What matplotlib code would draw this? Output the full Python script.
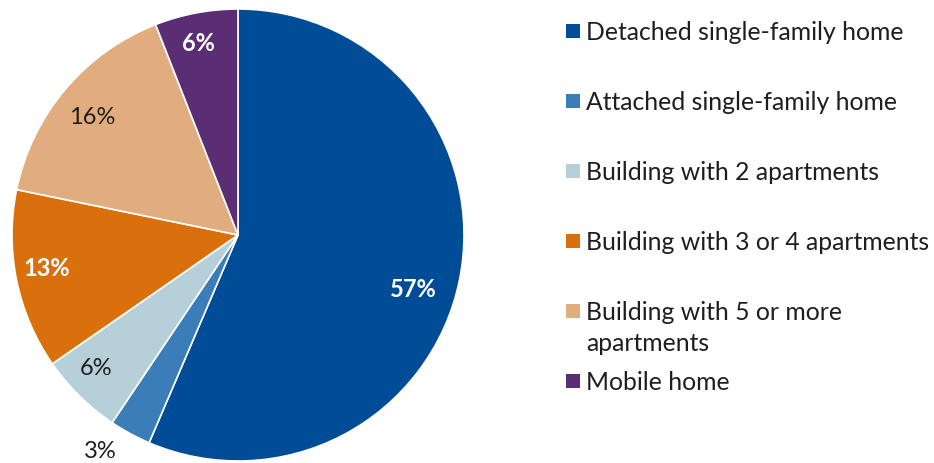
import numpy as np
import matplotlib
matplotlib.use("Agg")
import matplotlib.pyplot as plt
from matplotlib.patches import Rectangle

# Housing type shares (percent), drawn clockwise from 12 o'clock
categories = [
    "Detached single-family home",
    "Attached single-family home",
    "Building with 2 apartments",
    "Building with 3 or 4 apartments",
    "Building with 5 or more\napartments",
    "Mobile home",
]
shares = [57, 3, 6, 13, 16, 6]
colors = ["#004c97", "#3a7db8", "#b5d0d9", "#d9700c", "#e2ad7e", "#5b2d74"]
label_colors = ["white", "#1e1e1e", "#1e1e1e", "white", "#1e1e1e", "white"]
label_bold = [True, False, False, True, False, True]
# radial distance and small angular nudge (deg) for each percent label
label_dist = [0.81, 1.13, 0.86, 0.86, 0.83, 0.87]
label_nudge = [-5.5, -4.0, -2.3, -1.9, 1.1, 0.8]

plt.rcParams["font.family"] = ["Lato", "DejaVu Sans"]

fig = plt.figure(figsize=(9.34, 4.64), dpi=100)
W, H = 934, 464
cx, cy, r = 238, 236, 226
ax = fig.add_axes([(cx - r) / W, (H - cy - r) / H, 2 * r / W, 2 * r / H])

wedges, _ = ax.pie(shares, colors=colors, startangle=90, counterclock=False,
                   radius=1.0,
                   wedgeprops=dict(edgecolor="white", linewidth=1.2))
ax.set_xlim(-1, 1)
ax.set_ylim(-1, 1)
ax.set_aspect("equal")
for w in wedges:
    w.set_clip_on(False)

for w, v, col, bold, d, nd in zip(wedges, shares, label_colors, label_bold,
                                  label_dist, label_nudge):
    mid = np.deg2rad((w.theta1 + w.theta2) / 2 + nd)
    ax.text(d * np.cos(mid), d * np.sin(mid), f"{v}%",
            ha="center", va="center", color=col, fontsize=17,
            fontweight="bold" if bold else "normal", clip_on=False)

# Legend: evenly pitched rows, the wrapped entry spills into the gap below
row0, pitch, box = 32, 70, 14
for i, (w, lab) in enumerate(zip(wedges, categories)):
    yc = row0 + i * pitch
    fig.add_artist(Rectangle((566 / W, (H - yc - box / 2) / H), box / W, box / H,
                             transform=fig.transFigure,
                             facecolor=w.get_facecolor(), edgecolor="none"))
    fig.text(586 / W, (H - yc + 11) / H, lab, ha="left", va="top",
             fontsize=17.8, color="#1e1e1e", linespacing=1.42)

fig.savefig("out.png", dpi=100)
